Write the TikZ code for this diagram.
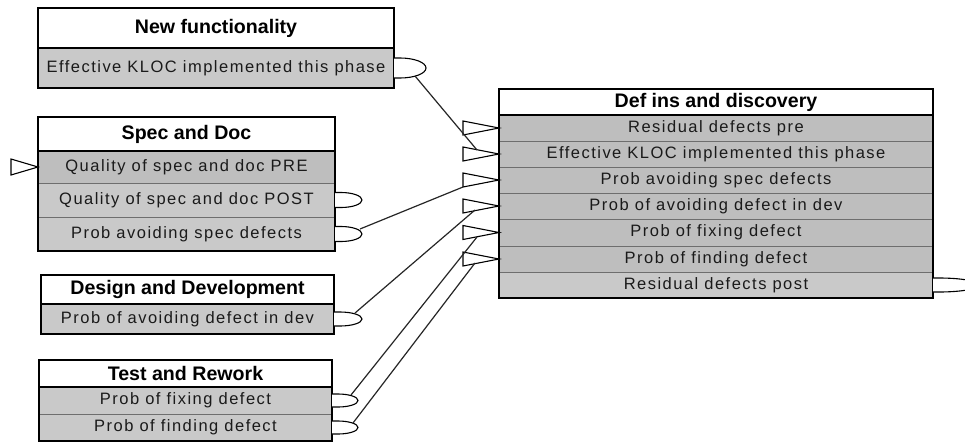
\documentclass[tikz,border=0pt]{standalone}
\usepackage{fontspec}
\usetikzlibrary{calc}
\setmainfont{Liberation Sans}
\newfontfamily\rowfont[LetterSpace=9]{Liberation Sans}
\definecolor{rowdark}{HTML}{BEBEBE}
\definecolor{rowlight}{HTML}{C9C9C9}
\definecolor{sepgray}{HTML}{6E6E6E}
\definecolor{txt}{HTML}{1A1A1A}
\begin{document}
\begin{tikzpicture}[x=1pt,y=-1pt,
  titlebox/.style={anchor=north west, inner sep=0pt, outer sep=0pt, fill=white,
    font=\fontsize{19.6}{22}\selectfont\bfseries, text=black},
  rowin/.style={anchor=north west, inner sep=0pt, outer sep=0pt, fill=rowdark,
    font=\rowfont\fontsize{16.5}{18}\selectfont, text=txt},
  rowout/.style={rowin, fill=rowlight},
  sepline/.style={draw=sepgray, line width=0.9pt},
  frame/.style={draw=black, line width=1.3pt},
  port/.style={draw=black, line width=1.1pt, fill=white},
  link/.style={draw=black!85, line width=1.2pt}]
\clip (0,0) rectangle (965,442);
\fill[white] (0,0) rectangle (965,442);

% ---------- New functionality ----------
\node[titlebox, minimum width=356pt, minimum height=40pt] (nft) at (38,8) {New functionality};
\node[rowout, minimum width=356pt, minimum height=40pt] (nf1) at (38,48) {Effective KLOC implemented this phase};
\draw[frame] (nft.north west) rectangle (nf1.south east);
\draw[frame] (nft.south west) -- (nft.south east);

% ---------- Spec and Doc ----------
\node[titlebox, minimum width=297pt, minimum height=34pt] (sdt) at (38,117) {Spec and Doc};
\node[rowin, minimum width=297pt, minimum height=32pt] (sd1) at (38,151) {Quality of spec and doc PRE};
\node[rowout, minimum width=297pt, minimum height=34pt] (sd2) at (38,183) {Quality of spec and doc POST};
\node[rowout, minimum width=297pt, minimum height=34pt] (sd3) at (38,217) {Prob avoiding spec defects};
\draw[sepline] (sd1.south west) -- (sd1.south east);
\draw[sepline] (sd2.south west) -- (sd2.south east);
\draw[frame] (sdt.north west) rectangle (sd3.south east);
\draw[frame] (sdt.south west) -- (sdt.south east);

% ---------- Design and Development ----------
\node[titlebox, minimum width=293pt, minimum height=29pt] (ddt) at (41,275) {Design and Development};
\node[rowout, minimum width=293pt, minimum height=30pt] (dd1) at (41,304) {Prob of avoiding defect in dev};
\draw[frame] (ddt.north west) rectangle (dd1.south east);
\draw[frame] (ddt.south west) -- (ddt.south east);

% ---------- Test and Rework ----------
\node[titlebox, minimum width=293pt, minimum height=27pt] (trt) at (39,360) {Test and Rework};
\node[rowout, minimum width=293pt, minimum height=27pt] (tr1) at (39,387) {Prob of fixing defect};
\node[rowout, minimum width=293pt, minimum height=27pt] (tr2) at (39,414) {Prob of finding defect};
\draw[sepline] (tr1.south west) -- (tr1.south east);
\draw[frame] (trt.north west) rectangle (tr2.south east);
\draw[frame] (trt.south west) -- (trt.south east);

% ---------- Def ins and discovery ----------
\node[titlebox, minimum width=434pt, minimum height=26pt] (dit) at (499,89) {Def ins and discovery};
\node[rowin, minimum width=434pt, minimum height=26pt] (di1) at (499,115) {Residual defects pre};
\node[rowin, minimum width=434pt, minimum height=26pt] (di2) at (499,141) {Effective KLOC implemented this phase};
\node[rowin, minimum width=434pt, minimum height=26pt] (di3) at (499,167) {Prob avoiding spec defects};
\node[rowin, minimum width=434pt, minimum height=26pt] (di4) at (499,193) {Prob of avoiding defect in dev};
\node[rowin, minimum width=434pt, minimum height=27pt] (di5) at (499,219) {Prob of fixing defect};
\node[rowin, minimum width=434pt, minimum height=26pt] (di6) at (499,246) {Prob of finding defect};
\node[rowout, minimum width=434pt, minimum height=26pt] (di7) at (499,272) {Residual defects post};
\foreach \r in {di1,di2,di3,di4,di5,di6}{\draw[sepline] (\r.south west) -- (\r.south east);}
\draw[frame] (dit.north west) rectangle (di7.south east);
\draw[frame] (dit.south west) -- (dit.south east);

% ---------- input triangles ----------
\foreach \r in {di1,di2,di3,di4,di5,di6}{
  \draw[port] (\r.west) -- ++(-36pt,-7pt) -- ++(0pt,14pt) -- cycle;}
\draw[port] (sd1.west) -- ++(-27pt,-8pt) -- ++(0pt,16pt) -- cycle;

% ---------- output ports ----------
\draw[port] ($(nf1.east)+(0pt,10pt)$) -- ++(6pt,0pt) arc[start angle=90,end angle=-90,x radius=26pt,y radius=10pt] -- ++(-6pt,0pt);
\draw[port] ($(sd2.east)+(0pt,7.5pt)$) -- ++(6pt,0pt) arc[start angle=90,end angle=-90,x radius=21pt,y radius=7.5pt] -- ++(-6pt,0pt);
\draw[port] ($(sd3.east)+(0pt,7.5pt)$) -- ++(6pt,0pt) arc[start angle=90,end angle=-90,x radius=21pt,y radius=7.5pt] -- ++(-6pt,0pt);
\draw[port] ($(dd1.east)+(0pt,7pt)$) -- ++(6pt,0pt) arc[start angle=90,end angle=-90,x radius=22pt,y radius=7pt] -- ++(-6pt,0pt);
\draw[port] ($(tr1.east)+(0pt,6.5pt)$) -- ++(6pt,0pt) arc[start angle=90,end angle=-90,x radius=20pt,y radius=6.5pt] -- ++(-6pt,0pt);
\draw[port] ($(tr2.east)+(0pt,6.5pt)$) -- ++(6pt,0pt) arc[start angle=90,end angle=-90,x radius=20pt,y radius=6.5pt] -- ++(-6pt,0pt);
\draw[port] ($(di7.east)+(0pt,7pt)$) -- ++(6pt,0pt) arc[start angle=90,end angle=-90,x radius=40pt,y radius=7pt] -- ++(-6pt,0pt);

% ---------- connector end points ----------
\coordinate (onf) at (415,76);
\coordinate (osd) at (360,229);
\coordinate (odd) at (355,313);
\coordinate (otr1) at (351,395);
\coordinate (otr2) at (353,423);
\coordinate (idi2) at (477,150);
\coordinate (idi3) at (463,187);
\coordinate (idi4) at (475,210);
\coordinate (idi5) at (477,237);
\coordinate (idi6) at (475,263);

\draw[link] (onf) -- (idi2);
\draw[link] (osd) -- (idi3);
\draw[link] (odd) -- (idi4);
\draw[link] (otr1) -- (idi5);
\draw[link] (otr2) -- (idi6);
\end{tikzpicture}
\end{document}
